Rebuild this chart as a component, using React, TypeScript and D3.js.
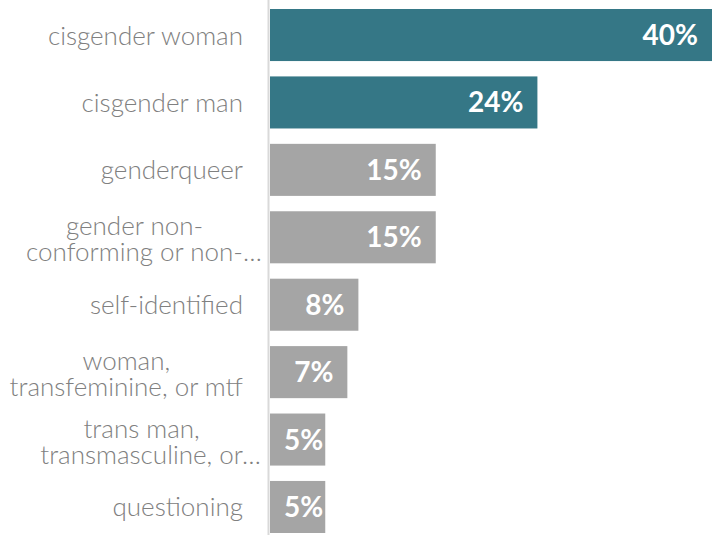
import React, { useEffect, useRef } from "react";
import * as d3 from "d3";

const categories = [
  "cisgender woman",
  "cisgender man",
  "genderqueer",
  "gender non-conforming or non-binary",
  "self-identified",
  "woman, transfeminine, or mtf",
  "trans man, transmasculine, or ftm",
  "questioning",
];
const labelLines = [
  ["cisgender woman"],
  ["cisgender man"],
  ["genderqueer"],
  ["gender non-", "conforming or non-…"],
  ["self-identified"],
  ["woman,", "transfeminine, or mtf"],
  ["trans man,", "transmasculine, or…"],
  ["questioning"],
];
const values = [40, 24.2, 15, 15, 8, 7, 5, 5];
const highlighted = [true, true, false, false, false, false, false, false];

const W = 712;
const H = 535;
const TEAL = "#357786";
const GREY = "#a5a5a5";
const LABEL_COLOR = "#808080";
const LABEL_FONT = "'Lato Light', Lato, sans-serif";

export default function App() {
  const ref = useRef<SVGSVGElement | null>(null);

  useEffect(() => {
    const svg = d3.select(ref.current);
    svg.selectAll("*").remove();

    const x = d3.scaleLinear().domain([0, 40]).range([270, 712]);
    const y = d3
      .scaleBand<string>()
      .domain(categories)
      .range([9, 533])
      .paddingInner(0.228)
      .paddingOuter(0);

    // bars
    svg
      .append("g")
      .selectAll("rect")
      .data(categories)
      .join("rect")
      .attr("x", x(0))
      .attr("y", (d) => y(d)!)
      .attr("width", (_, i) => x(values[i]) - x(0))
      .attr("height", y.bandwidth())
      .attr("fill", (_, i) => (highlighted[i] ? TEAL : GREY));

    // axis line
    svg
      .append("line")
      .attr("x1", 268.5)
      .attr("x2", 268.5)
      .attr("y1", 0)
      .attr("y2", H)
      .attr("stroke", "#d9d9d9")
      .attr("stroke-width", 2);

    // value labels
    const vg = svg.append("g");
    categories.forEach((c, i) => {
      const t = vg
        .append("text")
        .attr("y", y(c)! + y.bandwidth() / 2 + 10)
        .attr("text-anchor", "end")
        .attr("fill", "#ffffff")
        .attr("font-family", "Lato, sans-serif")
        .attr("font-weight", 700)
        .attr("font-size", 28)
        .text(`${Math.round(values[i])}%`);
      const w = (t.node() as SVGTextElement).getComputedTextLength();
      const xe = Math.max(x(values[i]) - 14, x(0) + 14 + w);
      t.attr("x", xe);
    });

    // category labels
    const R = 243;
    const lh = 26;
    const fs = 26;
    const lg = svg.append("g");
    categories.forEach((c, i) => {
      const lines = labelLines[i];
      const cy = y(c)! + y.bandwidth() / 2;
      if (lines.length === 1) {
        lg.append("text")
          .attr("x", R)
          .attr("y", cy + 9.5)
          .attr("text-anchor", "end")
          .attr("fill", LABEL_COLOR)
          .attr("font-family", LABEL_FONT)
          .attr("font-weight", 300)
          .attr("font-size", fs)
          .text(lines[0]);
        return;
      }
      const widths = lines.map((ln) => {
        const t = lg
          .append("text")
          .attr("font-family", LABEL_FONT)
          .attr("font-weight", 300)
          .attr("font-size", fs)
          .text(ln.replace(/…$/, ""));
        const w = (t.node() as SVGTextElement).getComputedTextLength();
        t.remove();
        return w;
      });
      const maxW = d3.max(widths)!;
      const center = R - maxW / 2;
      const txt = lg
        .append("text")
        .attr("fill", LABEL_COLOR)
        .attr("font-family", LABEL_FONT)
        .attr("font-weight", 300)
        .attr("font-size", fs);
      lines.forEach((ln, j) => {
        txt
          .append("tspan")
          .attr("x", center - widths[j] / 2)
          .attr("y", cy - 2 + j * lh)
          .text(ln);
      });
    });
  }, []);

  return (
    <svg
      ref={ref}
      width={W}
      height={H}
      style={{ position: "absolute", left: 0, top: 0, background: "#fff" }}
    />
  );
}
